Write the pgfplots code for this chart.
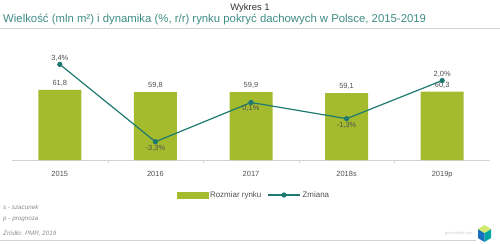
\documentclass[border=0pt]{standalone}
\usepackage{pgfplots}
\pgfplotsset{compat=1.18}
\usepackage{pgfplotstable}
\usepackage{fontspec}
\setmainfont{Liberation Sans}
\definecolor{barcol}{RGB}{165,187,46}
\definecolor{linecol}{RGB}{30,122,110}
\definecolor{subcol}{RGB}{62,140,132}
\definecolor{txtcol}{RGB}{80,80,80}
\definecolor{rulecol}{RGB}{210,210,210}
\pgfplotsset{
  barleg/.style={legend image code/.code={\fill[barcol] (0bp,-2.8bp) rectangle (31bp,2.8bp);}},
  lineleg/.style={legend image code/.code={\draw[mark repeat=2,mark phase=2,##1] plot coordinates {(0bp,0bp) (16bp,0bp) (32bp,0bp)};}},
  pctlabel/.style={
    nodes near coords={\pgfmathprintnumber[use comma, fixed, precision=1, fixed zerofill, assume math mode=true]{\pgfplotspointmeta}\%},
    every node near coord/.append style={font=\fontsize{7.5}{9}\selectfont, text=txtcol, anchor=#1, inner sep=3bp}},
}
\pgfplotstableread{
x y
0 61.8
1 59.8
2 59.9
3 59.1
4 60.3
}\barsdata
\pgfplotstableread{
x y
0 3.4
1 -3.3
2 0.1
3 -1.3
4 2.0
}\linedata
\pgfplotstableread{
x y
0 3.4
4 2.0
}\lineabove
\pgfplotstableread{
x y
1 -3.3
2 0.1
3 -1.3
}\linebelow
\begin{document}
\begin{tikzpicture}[x=1bp,y=1bp]
\useasboundingbox (0,0) rectangle (500,243);
% header
\node[font=\fontsize{9.5}{11}\selectfont, text=black!80] at (250,235) {Wykres 1};
\node[anchor=west, font=\fontsize{11.4}{13}\selectfont, text=subcol, inner sep=0] at (3,224) {Wielkość (mln m²) i dynamika (\%, r/r) rynku pokryć dachowych w Polsce, 2015-2019};
\draw[rulecol, line width=1bp] (0,215) -- (500,215);
% bars
\begin{axis}[
  at={(12bp,83bp)}, anchor=south west,
  scale only axis, width=478bp, height=113.3bp,
  xmin=-0.5, xmax=4.5, ymin=0, ymax=100,
  axis x line*=bottom, hide y axis,
  x axis line style={rulecol, line width=0.8bp},
  xtick={0,1,2,3,4},
  xticklabels={2015,2016,2017,2018s,2019p},
  major tick length=0pt,
  minor xtick={0.5,1.5,2.5,3.5},
  minor tick length=3bp,
  tick align=center,
  minor tick style={rulecol},
  xticklabel style={font=\fontsize{7.5}{9}\selectfont, text=txtcol, yshift=-8bp},
  ybar, bar width=43bp,
  clip=false,
  nodes near coords={\pgfmathprintnumber[use comma, fixed, precision=1, fixed zerofill, assume math mode=true]{\pgfplotspointmeta}},
  every node near coord/.append style={font=\fontsize{7.5}{9}\selectfont, text=txtcol},
]
\addplot[fill=barcol, draw=none] table[x=x, y=y] {\barsdata};
\end{axis}
% line
\begin{axis}[
  at={(12bp,83bp)}, anchor=south west,
  scale only axis, width=478bp, height=113.3bp,
  xmin=-0.5, xmax=4.5, ymin=-4.88, ymax=4.93,
  hide axis, clip=false,
  legend columns=2,
  legend style={at={(0.506,-0.309)}, anchor=center, draw=none, fill=none,
    font=\fontsize{8}{10}\selectfont, text=txtcol,
    /tikz/every even column/.append style={column sep=4bp},
    inner sep=0pt},
]
\addlegendimage{barleg}
\addlegendentry{Rozmiar rynku}
\addplot[linecol, line width=1.2bp, mark=*, mark size=2bp,
  mark options={fill=linecol}, lineleg] table[x=x, y=y] {\linedata};
\addlegendentry{Zmiana}
\addplot[forget plot, draw=none, mark=none, pctlabel=south, point meta=explicit] table[x=x, y=y, meta=y] {\lineabove};
\addplot[forget plot, draw=none, mark=none, pctlabel=north, point meta=explicit] table[x=x, y=y, meta=y] {\linebelow};
\end{axis}
% footnotes
\begin{scope}[every node/.style={anchor=west, inner sep=0, font=\fontsize{6.3}{7.5}\selectfont\itshape, text=black!45}]
\node at (3,36) {s - szacunek};
\node at (3,24) {p - prognoza};
\node at (3,10) {Źródło: PMR, 2019};
\end{scope}
\node[anchor=east, inner sep=0, font=\fontsize{4}{5}\selectfont, text=black!20] at (473,10) {pmrmarket.com};
% logo
\fill[cyan!50!blue] (484.5,1) -- (484.5,10) -- (478,14) -- (478,5) -- cycle;
\fill[teal!70!cyan] (484.5,1) -- (484.5,10) -- (491,14) -- (491,5) -- cycle;
\fill[yellow!70!green!60] (478,14) -- (484.5,10) -- (491,14) -- (484.5,18) -- cycle;
\draw[rulecol, line width=1bp] (0,3) -- (476,3);
\end{tikzpicture}
\end{document}
